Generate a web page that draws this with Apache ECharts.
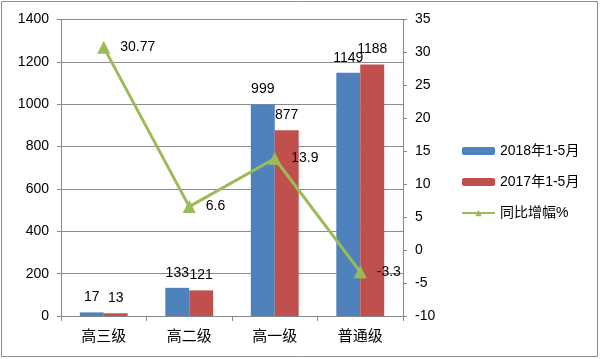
<!DOCTYPE html>
<html><head><meta charset="utf-8">
<script src="https://cdn.jsdelivr.net/npm/echarts@6/dist/echarts.min.js"></script>
<style>html,body{margin:0;padding:0;background:#fff}#c{width:600px;height:359px}</style>
</head><body><div id="c"></div>
<script>
const categories = ['高三级', '高二级', '高一级', '普通级'];
const s2018 = [17, 133, 999, 1149];
const s2017 = [13, 121, 877, 1188];
const growth = [30.77, 6.6, 13.9, -3.3];
const names = ['2018年1-5月', '2017年1-5月', '同比增幅%'];

const font = '"Liberation Sans", "Noto Sans CJK SC", sans-serif';
const chart = echarts.init(document.getElementById('c'), null, {renderer: 'canvas'});
chart.setOption({
  animation: false,
  textStyle: {fontFamily: font},
  graphic: [{type: 'rect', shape: {x: 1.5, y: 1.5, width: 596, height: 355}, style: {fill: 'none', stroke: '#8c8c8c', lineWidth: 1}}],
  grid: {left: 61, right: 197, top: 19.5, bottom: 43},
  legend: {
    orient: 'vertical', left: 456, top: 139, itemWidth: 33, itemHeight: 8, itemGap: 17,
    textStyle: {fontSize: 14, color: '#000', fontFamily: font},
    data: names
  },
  xAxis: {
    type: 'category', data: categories,
    axisLine: {lineStyle: {color: '#888'}},
    axisTick: {show: true, length: 5, lineStyle: {color: '#888'}},
    axisLabel: {fontSize: 15, color: '#000', margin: 12, fontFamily: '"Noto Sans CJK SC", sans-serif'}
  },
  yAxis: [{
    type: 'value', min: 0, max: 1400, interval: 200,
    axisLine: {show: true, lineStyle: {color: '#888'}},
    axisTick: {show: true, length: 4, lineStyle: {color: '#888'}},
    axisLabel: {fontSize: 14, color: '#000', margin: 12, formatter: v => String(v)},
    splitLine: {lineStyle: {color: '#8c8c8c'}}
  }, {
    type: 'value', min: -10, max: 35, interval: 5,
    axisLine: {show: true, lineStyle: {color: '#888'}},
    axisTick: {show: true, length: 4, lineStyle: {color: '#888'}},
    axisLabel: {fontSize: 14, color: '#000', margin: 12, formatter: v => String(v)},
    splitLine: {show: false}
  }],
  series: [{
    name: names[0], type: 'bar', data: s2018, barGap: '0%', barCategoryGap: '44%',
    itemStyle: {color: '#4F81BD'},
    label: {show: true, position: 'top', distance: 8, fontSize: 14, color: '#000'}
  }, {
    name: names[1], type: 'bar', data: s2017,
    itemStyle: {color: '#C0504D'},
    label: {show: true, position: 'top', distance: 8, fontSize: 14, color: '#000'}
  }, {
    name: names[2], type: 'line', yAxisIndex: 1, data: growth,
    symbol: 'triangle', symbolSize: 13,
    lineStyle: {color: '#9BBB59', width: 3},
    itemStyle: {color: '#9BBB59'},
    label: {show: true, position: 'right', distance: 10, fontSize: 14, color: '#000'}
  }]
});
</script></body></html>
